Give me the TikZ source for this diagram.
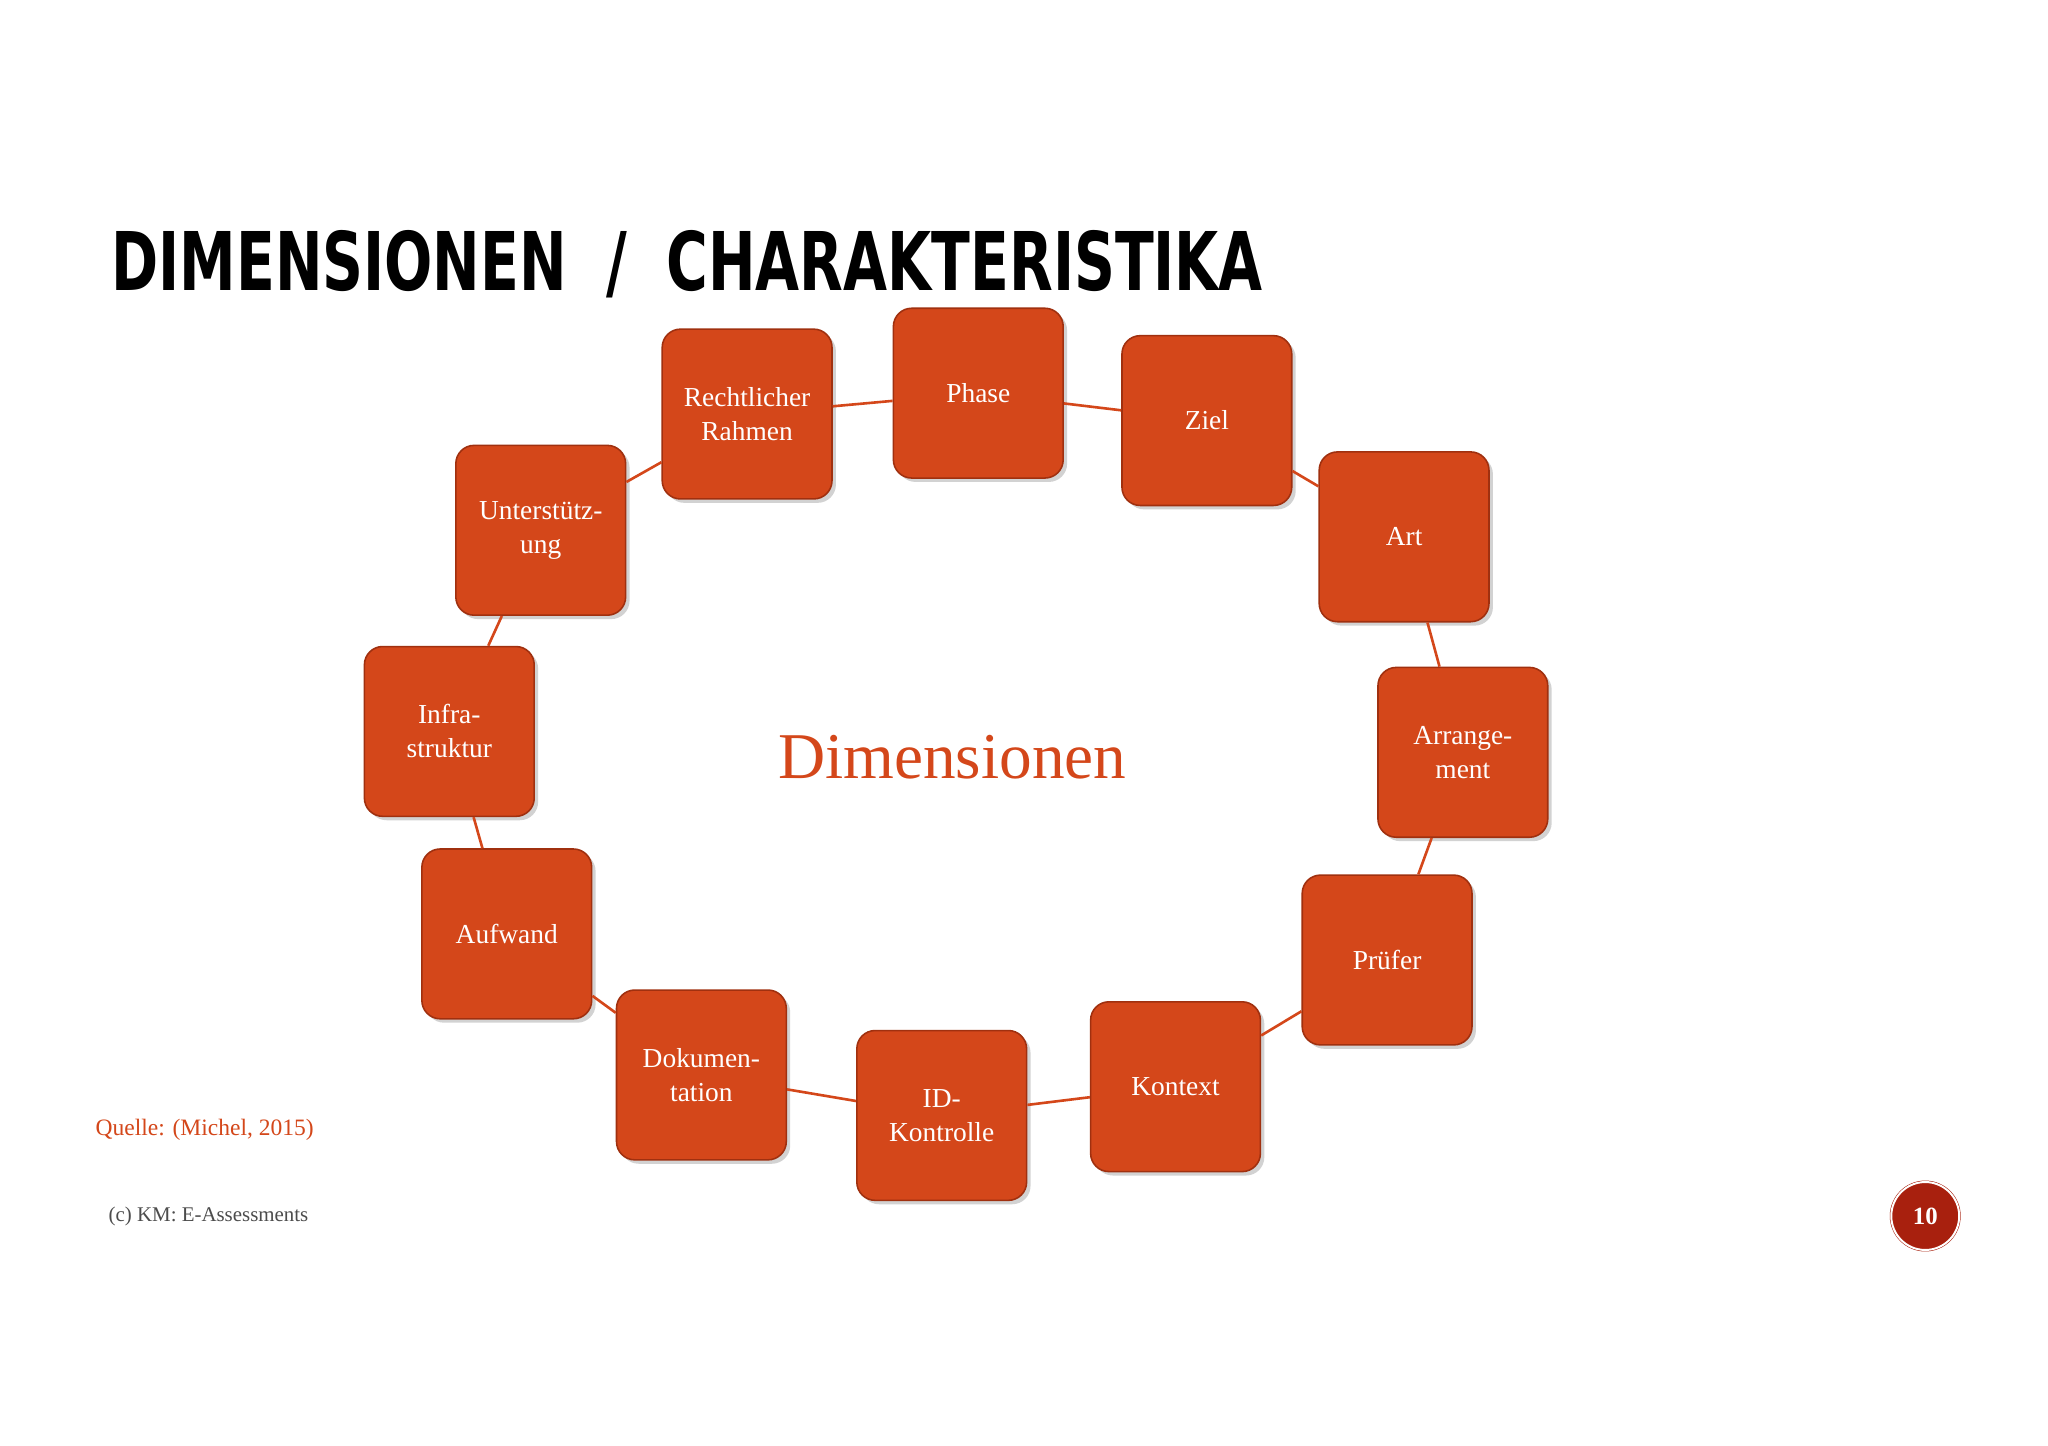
\documentclass[tikz,border=0pt]{standalone}
\usepackage{fontspec}
\setmainfont{Liberation Serif}
\newfontfamily\titlefont{DejaVu Sans Condensed}
\usetikzlibrary{shadows}
\definecolor{boxor}{HTML}{D4471A}
\definecolor{boxedge}{HTML}{A0300F}
\definecolor{pgred}{HTML}{A8200E}
\tikzset{
 dimbox/.style={rectangle,rounded corners=14pt,minimum width=130pt,minimum height=130pt,
   fill=boxor,draw=boxedge,line width=1.2pt,text=white,align=center,
   font=\fontsize{21}{26}\selectfont,drop shadow={shadow xshift=3pt,shadow yshift=-3pt,opacity=0.35}},
 link/.style={draw=boxor,line width=2pt}
}
\begin{document}
\begin{tikzpicture}[x=1pt,y=-1pt]
\useasboundingbox[fill=white] (0,0) rectangle (1568,1107);
\node[anchor=west,inner sep=0,font=\titlefont\bfseries\fontsize{62}{62}\selectfont] at (85,202) {\scalebox{0.78}[1]{DIMENSIONEN\ \ /\ \ CHARAKTERISTIKA}};
\node (c1) [dimbox] at (572,317) {Rechtlicher\\Rahmen};
\node (c2) [dimbox] at (749,301) {Phase};
\node (c3) [dimbox] at (924,322) {Ziel};
\node (c4) [dimbox] at (1075,411) {Art};
\node (c5) [dimbox] at (1120,576) {Arrange-\\ment};
\node (c6) [dimbox] at (1062,735) {Prüfer};
\node (c7) [dimbox] at (900,832) {Kontext};
\node (c8) [dimbox] at (721,854) {ID-\\Kontrolle};
\node (c9) [dimbox] at (537,823) {Dokumen-\\tation};
\node (c10) [dimbox] at (388,715) {Aufwand};
\node (c11) [dimbox] at (344,560) {Infra-\\struktur};
\node (c12) [dimbox] at (414,406) {Unterstütz-\\ung};
\begin{scope}[on background layer/.try]
\end{scope}
\foreach \a/\b in {c1/c2,c2/c3,c3/c4,c4/c5,c5/c6,c6/c7,c7/c8,c8/c9,c9/c10,c10/c11,c11/c12,c12/c1}
  \draw[link] (\a) -- (\b);
\node (ctr) [text=boxor,font=\fontsize{50}{50}\selectfont] at (729,580) {Dimensionen};
\node (q) [anchor=west,text=boxor,font=\fontsize{18}{18}\selectfont,inner sep=0] at (73,865) {Quelle: (Michel, 2015)};
\node (cp) [anchor=west,text=black!70,font=\fontsize{16}{16}\selectfont,inner sep=0] at (83,931) {(c) KM: E-Assessments};
\node (pg) [circle,fill=pgred,draw=pgred,double=white,double distance=1.5pt,minimum size=52pt,text=white,font=\bfseries\fontsize{19}{19}\selectfont] at (1474,931) {10};
\end{tikzpicture}
\end{document}
